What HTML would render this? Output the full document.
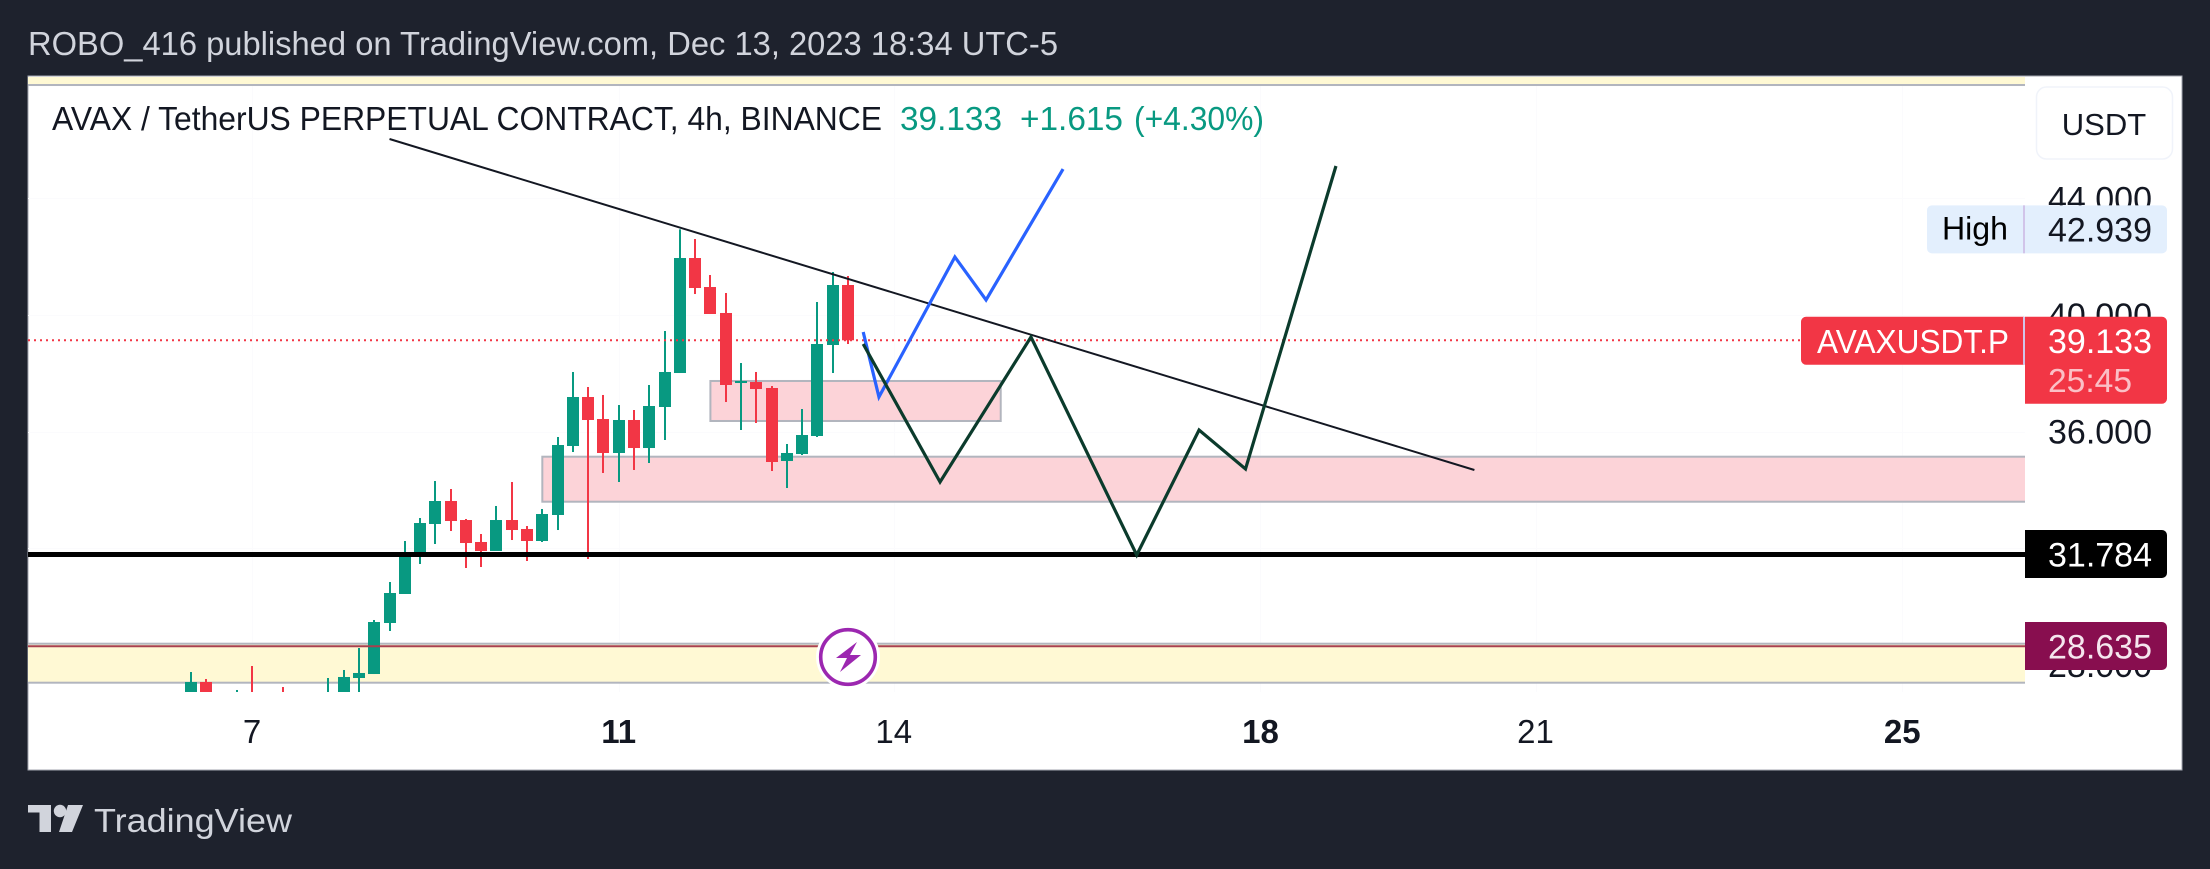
<!DOCTYPE html>
<html lang="en">
<head>
<meta charset="utf-8">
<title>AVAX / TetherUS chart</title>
<style>
html,body{margin:0;padding:0;background:#1e222d;width:2210px;height:869px;overflow:hidden}
svg{display:block;font-family:"Liberation Sans",sans-serif}
</style>
</head>
<body>
<svg id="chart" xmlns="http://www.w3.org/2000/svg" width="2210" height="869" viewBox="0 0 2210 869">
  <defs>
    <clipPath id="plot-clip"><rect x="28" y="77" width="1997" height="615"/></clipPath>
  </defs>
  <rect x="0" y="0" width="2210" height="869" fill="#1e222d"/>
  <text x="28" y="55" font-size="33" fill="#d1d4dc" textLength="1030" lengthAdjust="spacingAndGlyphs">ROBO_416 published on TradingView.com, Dec 13, 2023 18:34 UTC-5</text>
  <rect x="28" y="76" width="2154" height="694" fill="#ffffff" stroke="#a3a6af" stroke-width="1"/>

  <g id="grid-layer" clip-path="url(#plot-clip)"></g>
  <g id="zone-layer" clip-path="url(#plot-clip)"></g>
  <g id="candle-layer" clip-path="url(#plot-clip)"></g>
  <g id="level-layer" clip-path="url(#plot-clip)"></g>
  <g id="drawing-layer" clip-path="url(#plot-clip)"></g>

  <g>
    <circle cx="848" cy="657" r="32" fill="#ffffff"/>
    <circle cx="848" cy="657" r="27.3" fill="#ffffff" stroke="#9c27b0" stroke-width="3.6"/>
    <path d="M857 642 L836 658 L847 658 L840 672 L861 655 L850 655 Z" fill="#9c27b0"/>
  </g>

  <text x="52" y="130" font-size="33" fill="#131722" textLength="830" lengthAdjust="spacingAndGlyphs">AVAX / TetherUS PERPETUAL CONTRACT, 4h, BINANCE</text>
  <text x="900" y="130" font-size="33" fill="#089981" textLength="102" lengthAdjust="spacingAndGlyphs">39.133</text>
  <text x="1020" y="130" font-size="33" fill="#089981" textLength="103" lengthAdjust="spacingAndGlyphs">+1.615</text>
  <text x="1134" y="130" font-size="33" fill="#089981" textLength="130" lengthAdjust="spacingAndGlyphs">(+4.30%)</text>

  <g id="axis-layer"></g>

  <g>
    <rect x="2036.5" y="87" width="136" height="72" rx="10" fill="#ffffff" stroke="#f0f3fa" stroke-width="1.5"/>
    <text x="2104" y="135" font-size="31" fill="#131722" text-anchor="middle">USDT</text>
  </g>

  <g id="high-badge">
    <rect x="1927" y="-24" width="240" height="48" rx="5" fill="#e3effd"/>
    <rect x="2023" y="-24" width="2" height="48" fill="#d1c4e9"/>
    <text x="1942" y="10" font-size="32" fill="#000000" textLength="66" lengthAdjust="spacingAndGlyphs">High</text>
    <text id="high-text" x="2152" y="12" font-size="34" fill="#131722" text-anchor="end"></text>
  </g>

  <g id="last-badge">
    <path d="M1806 -23.5 H2024 V24.5 H1806 a5 5 0 0 1 -5 -5 V-18.5 a5 5 0 0 1 5 -5 Z" fill="#f23645"/>
    <rect x="2023" y="-23.5" width="2" height="48" fill="#d1c4e9"/>
    <path d="M2025 -23.5 H2162 a5 5 0 0 1 5 5 V58.5 a5 5 0 0 1 -5 5 H2025 Z" fill="#f23645"/>
    <text x="1817" y="12.7" font-size="33" fill="#ffffff" textLength="192" lengthAdjust="spacingAndGlyphs">AVAXUSDT.P</text>
    <text id="last-text" x="2152" y="12.7" font-size="34" fill="#ffffff" text-anchor="end"></text>
    <text x="2048" y="51.7" font-size="33" fill="#fbc0c6" textLength="84" lengthAdjust="spacingAndGlyphs">25:45</text>
  </g>

  <g id="support-badge">
    <path d="M2025 -24.5 H2162 a5 5 0 0 1 5 5 V18.5 a5 5 0 0 1 -5 5 H2025 Z" fill="#000000"/>
    <text id="support-text" x="2152" y="12.2" font-size="34" fill="#ffffff" text-anchor="end"></text>
  </g>

  <g id="lower-badge">
    <path d="M2025 -24.3 H2162 a5 5 0 0 1 5 5 V18.7 a5 5 0 0 1 -5 5 H2025 Z" fill="#880e4f"/>
    <text id="lower-text" x="2152" y="12.4" font-size="34" fill="#f5e6ee" text-anchor="end"></text>
  </g>

  <g>
    <path d="M28 805 H51 V832 H39.5 V812.5 H28 Z" fill="#d1d4dc"/>
    <circle cx="60" cy="811" r="6.2" fill="#d1d4dc"/>
    <path d="M68 805 H83 L72 832 H59 Z" fill="#d1d4dc"/>
    <text x="94" y="832" font-size="33" fill="#d1d4dc" textLength="198" lengthAdjust="spacingAndGlyphs">TradingView</text>
  </g>
</svg>

<script>
// Time axis: day of month and bar offset from the 7th (4h bars, 6 per day)
const dayLabels = ["7", "11", "14", "18", "21", "25"];
const dayBars = [0, 24, 42, 66, 84, 108];
const dayBold = [false, true, false, true, false, true];

// Price axis
const priceTicks = [44, 40, 36, 32, 28];
const priceTickLabels = ["44.000", "40.000", "36.000", "", "28.000"];

// Candles: first bar is 4 bars before the 7th
const firstBar = -4;
const opens = [26.8,27.41,26.9,26.7,26.9,26.6,26.5,26.3,26.5,26.6,26.9,27.547,27.684,29.434,30.429,31.801,32.83,33.619,32.967,32.213,31.904,32.967,32.659,32.247,33.139,35.506,37.187,36.432,35.266,36.398,35.437,36.844,38.01,41.955,40.96,40.069,37.667,37.701,37.496,34.991,35.231,35.849,38.971,41.029];
const highs = [27.753,27.513,27.0,27.136,27.959,26.95,27.238,26.8,26.9,27.547,27.822,28.576,29.537,30.84,32.247,33.036,34.305,34.031,33.002,32.487,33.448,34.271,32.761,33.345,35.815,38.045,37.53,37.256,36.912,36.741,37.599,39.451,42.939,42.607,41.372,40.755,38.353,38.045,37.564,35.575,36.775,40.446,41.475,41.338];
const lows = [26.6,26.5,26.4,26.4,26.3,26.2,26.2,26.1,26.2,26.3,26.7,26.8,27.684,29.16,30.429,31.458,32.144,32.59,31.321,31.355,31.904,32.281,31.561,32.213,32.624,35.3,31.63,34.58,34.271,34.683,34.923,35.712,38.01,40.72,40.034,37.015,36.055,36.295,34.648,34.065,35.197,35.815,38.01,39.005];
const closes = [27.41,26.9,26.7,26.9,26.6,26.4,26.3,26.5,26.6,26.9,27.582,27.719,29.468,30.463,31.835,32.864,33.619,32.933,32.178,31.904,32.967,32.624,32.247,33.173,35.54,37.187,36.398,35.266,36.398,35.437,36.878,38.045,41.955,40.926,40.034,37.599,37.736,37.461,34.957,35.266,35.883,39.005,41.029,39.133];

// Key levels
const lastPrice = 39.133;
const highPrice = 42.939;
const supportPrice = 31.784;
const lowerPrice = 28.635;

// Drawn zones: bar start, bar end, top price, bottom price
const zoneBarStart = [-40, -40, 19, 30];
const zoneBarEnd = [140, 140, 140, 49];
const zoneTop = [52, 28.724, 35.139, 37.736];
const zoneBottom = [47.89, 27.386, 33.595, 36.364];
const zoneKinds = ["yellow", "yellow", "pink", "pink"];

// Drawn paths
const trendBars = [9, 80];
const trendPrices = [46.038, 34.683];
const blueBars = [40, 41.03, 46, 48.04, 53.08];
const bluePrices = [39.417, 37.187, 41.99, 40.515, 45.008];
const scenarioBars = [40, 45.03, 50.98, 57.9, 61.98, 65.02, 70.94];
const scenarioPrices = [39.005, 34.271, 39.245, 31.767, 36.055, 34.717, 45.111];

const SVG_NS = "http://www.w3.org/2000/svg";
const xScale = function (bar) { return 252 + 15.28 * bar; };
const yScale = function (price) { return 431.6 + (36 - price) * 29.15; };
function make(tag, parent) {
  const el = document.createElementNS(SVG_NS, tag);
  parent.appendChild(el);
  return el;
}
function set(el, name, value) { el.setAttribute(name, value); }

const gridLayer = document.getElementById("grid-layer");
const zoneLayer = document.getElementById("zone-layer");
const candleLayer = document.getElementById("candle-layer");
const levelLayer = document.getElementById("level-layer");
const drawingLayer = document.getElementById("drawing-layer");
const axisLayer = document.getElementById("axis-layer");

priceTicks.forEach(function (p, i) {
  const line = make("rect", gridLayer);
  
  
  set(line, "x", 28); set(line, "width", 1997);
  set(line, "y", Math.round(yScale(p))); set(line, "height", 1);
  set(line, "fill", "#fbfbfd");
  if (priceTickLabels[i]) {
    const t = make("text", axisLayer);
    
    
    set(t, "x", 2152); set(t, "y", yScale(p) + 12);
    set(t, "font-size", 34); set(t, "fill", "#131722");
    set(t, "text-anchor", "end");
    t.textContent = priceTickLabels[i];
  }
});

dayBars.forEach(function (b, i) {
  const line = make("rect", gridLayer);
  
  
  set(line, "x", Math.round(xScale(b))); set(line, "width", 1);
  set(line, "y", 77); set(line, "height", 615);
  set(line, "fill", "#fbfbfd");
  const t = make("text", axisLayer);
  
  
  set(t, "x", xScale(b)); set(t, "y", 743);
  set(t, "font-size", 33); set(t, "fill", "#131722");
  set(t, "text-anchor", "middle");
  if (dayBold[i]) { set(t, "font-weight", "bold"); }
  t.textContent = dayLabels[i];
});

zoneBarStart.forEach(function (b, i) {
  const r = make("rect", zoneLayer);
  
  
  const x0 = xScale(b), x1 = xScale(zoneBarEnd[i]);
  const y0 = yScale(zoneTop[i]), y1 = yScale(zoneBottom[i]);
  set(r, "x", x0); set(r, "y", y0);
  set(r, "width", x1 - x0); set(r, "height", y1 - y0);
  set(r, "fill", zoneKinds[i] === "yellow" ? "#fff9d4" : "#fcd3d8");
  set(r, "stroke", "#b2b5be"); set(r, "stroke-width", 2);
});

opens.forEach(function (o, i) {
  const c = closes[i];
  const bar = firstBar + i;
  const color = c >= o ? "#089981" : "#f23645";
  const cx = Math.round(xScale(bar));
  const wick = make("rect", candleLayer);
  
  
  set(wick, "x", cx - 1); set(wick, "width", 2);
  set(wick, "y", yScale(highs[i]));
  set(wick, "height", yScale(lows[i]) - yScale(highs[i]));
  set(wick, "fill", color);
  const body = make("rect", candleLayer);
  
  
  const top = yScale(Math.max(o, c));
  set(body, "x", cx - 6); set(body, "width", 12);
  set(body, "y", top);
  set(body, "height", Math.max(2, yScale(Math.min(o, c)) - top));
  set(body, "fill", color);
});

const lastLine = make("line", levelLayer);


set(lastLine, "x1", 28); set(lastLine, "x2", 1801);
set(lastLine, "y1", yScale(lastPrice)); set(lastLine, "y2", yScale(lastPrice));
set(lastLine, "stroke", "#f23645"); set(lastLine, "stroke-width", 2);
set(lastLine, "stroke-dasharray", "2 4");

const lowerLine = make("line", levelLayer);


set(lowerLine, "x1", 28); set(lowerLine, "x2", 2025);
set(lowerLine, "y1", yScale(lowerPrice)); set(lowerLine, "y2", yScale(lowerPrice));
set(lowerLine, "stroke", "#a8404f"); set(lowerLine, "stroke-width", 2);

const supportLine = make("line", levelLayer);


set(supportLine, "x1", 28); set(supportLine, "x2", 2025);
set(supportLine, "y1", yScale(supportPrice)); set(supportLine, "y2", yScale(supportPrice));
set(supportLine, "stroke", "#000000"); set(supportLine, "stroke-width", 5);

function pathPoints(bars, prices) {
  return bars.map(function (b, i) { return xScale(b) + "," + yScale(prices[i]); }).join(" ");
}

const trend = make("polyline", drawingLayer);


set(trend, "points", pathPoints(trendBars, trendPrices));
set(trend, "fill", "none"); set(trend, "stroke", "#131722"); set(trend, "stroke-width", 2);

const blue = make("polyline", drawingLayer);


set(blue, "points", pathPoints(blueBars, bluePrices));
set(blue, "fill", "none"); set(blue, "stroke", "#2962ff"); set(blue, "stroke-width", 3.2);

const scenario = make("polyline", drawingLayer);


set(scenario, "points", pathPoints(scenarioBars, scenarioPrices));
set(scenario, "fill", "none"); set(scenario, "stroke", "#0b3b2c"); set(scenario, "stroke-width", 3.2);

function placeBadge(id, textId, price) {
  document.getElementById(id).setAttribute("transform", "translate(0," + yScale(price) + ")");
  document.getElementById(textId).textContent = price.toFixed(3);
}
placeBadge("high-badge", "high-text", highPrice);
placeBadge("last-badge", "last-text", lastPrice);
placeBadge("support-badge", "support-text", supportPrice);
placeBadge("lower-badge", "lower-text", lowerPrice);
</script>
</body>
</html>
